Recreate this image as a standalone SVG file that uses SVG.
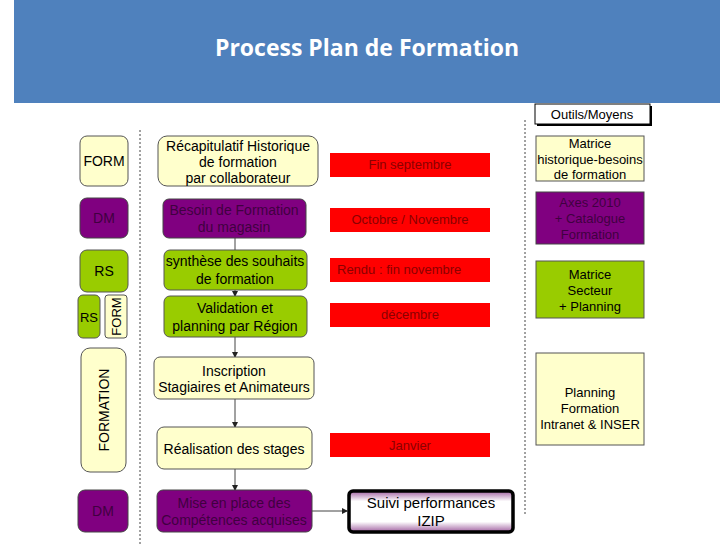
<svg xmlns="http://www.w3.org/2000/svg" width="728" height="546" viewBox="0 0 728 546">
<style>
text{font-family:"Liberation Sans",Arial,sans-serif;font-size:14px;text-anchor:middle}
.s{font-size:13px}
.y{fill:#FFFFCC;stroke:#555;stroke-width:1}
.p{fill:#800080;stroke:#444;stroke-width:1}
.g{fill:#99CC00;stroke:#555;stroke-width:1}
.pt{fill:#400040}
.r{fill:#FF0000}
.rt{fill:#8B0000}
.c{stroke:#444;stroke-width:1;fill:none}
.d{stroke:#444;stroke-width:1;stroke-dasharray:2,2}
</style>
<defs>
<marker id="a" markerWidth="6" markerHeight="6" refX="5" refY="3" orient="auto"><path d="M0,0L6,3L0,6z" fill="#222"/></marker>
<linearGradient id="sg" x1="0" y1="0" x2="0" y2="1"><stop offset="0" stop-color="#a060a0"/><stop offset="0.25" stop-color="#fff"/><stop offset="0.75" stop-color="#fff"/><stop offset="1" stop-color="#a060a0"/></linearGradient>
</defs>
<rect width="728" height="546" fill="#fff"/>
<rect x="14" y="0" width="706" height="103" fill="#4F81BD"/>
<text x="367" y="56" style="font-family:'Open Sans','Liberation Sans',sans-serif;font-size:23px;font-weight:bold;fill:#fff">Process Plan de Formation</text>
<line class="d" x1="140" y1="130" x2="140" y2="546"/>
<line class="d" x1="525" y1="120" x2="525" y2="515"/>
<g id="connectors">
<line class="c" x1="235" y1="238" x2="235" y2="250" stroke="#999"/>
<line class="c" x1="235" y1="290" x2="235" y2="296" marker-end="url(#a)"/>
<line class="c" x1="235" y1="337" x2="235" y2="357" marker-end="url(#a)"/>
<line class="c" x1="235" y1="399" x2="235" y2="427" marker-end="url(#a)"/>
<line class="c" x1="235" y1="469" x2="235" y2="490" marker-end="url(#a)"/>
<line class="c" x1="312" y1="511" x2="347" y2="511" marker-end="url(#a)"/>
</g>
<g id="l-form"><rect class="y" x="80" y="136" width="48" height="50" rx="7"/><text x="104" y="166">FORM</text></g>
<g id="l-dm1"><rect class="p" x="80" y="198" width="48" height="40" rx="7"/><text class="pt" x="104" y="223">DM</text></g>
<g id="l-rs"><rect class="g" x="80" y="250" width="48" height="42" rx="7"/><text x="104" y="276">RS</text></g>
<g id="l-rs2"><rect class="g" x="78" y="295" width="22" height="43" rx="5"/><text x="89" y="322" class="s">RS</text></g>
<g id="l-form2"><rect class="y" x="105" y="295" width="22" height="43" rx="3"/><text class="s" transform="translate(121,316.5) rotate(-90)">FORM</text></g>
<g id="l-formation"><rect class="y" x="81" y="348" width="45" height="124" rx="9"/><text transform="translate(109,410) rotate(-90)">FORMATION</text></g>
<g id="l-dm2"><rect class="p" x="78" y="490" width="50" height="42" rx="7"/><text class="pt" x="103" y="516">DM</text></g>
<g id="n-recap"><rect class="y" x="158" y="136" width="160" height="50" rx="9"/><text x="238" y="151">Récapitulatif Historique</text><text x="238" y="167">de formation</text><text x="238" y="183">par collaborateur</text></g>
<g id="n-besoin"><rect class="p" x="163" y="199" width="143" height="39" rx="6"/><text class="pt" x="234" y="215">Besoin de Formation</text><text class="pt" x="234" y="232">du magasin</text></g>
<g id="n-synth"><rect class="g" x="164" y="250" width="143" height="40" rx="6"/><text x="235" y="266">synthèse des souhaits</text><text x="235" y="284">de formation</text></g>
<g id="n-valid"><rect class="g" x="164" y="296" width="143" height="41" rx="6"/><text x="235" y="313">Validation et</text><text x="235" y="331">planning par Région</text></g>
<g id="n-inscr"><rect class="y" x="154" y="357" width="160" height="42" rx="6"/><text x="234" y="376">Inscription</text><text x="234" y="392">Stagiaires et Animateurs</text></g>
<g id="n-real"><rect class="y" x="157" y="427" width="155" height="42" rx="7"/><text x="234" y="454">Réalisation des stages</text></g>
<g id="n-mise"><rect class="p" x="157" y="490" width="155" height="42" rx="6"/><text class="pt" x="234" y="508">Mise en place des</text><text class="pt" x="234" y="525">Compétences acquises</text></g>
<g id="n-suivi"><rect x="349" y="491" width="164" height="41" rx="4" fill="url(#sg)" stroke="#000" stroke-width="3.5"/><text x="431" y="508" style="font-size:15px">Suivi performances</text><text x="431" y="526" style="font-size:15px">IZIP</text></g>
<g id="t-sept"><rect class="r" x="330" y="153" width="160" height="24"/><text class="rt s" x="410" y="169">Fin septembre</text></g>
<g id="t-oct"><rect class="r" x="330" y="208" width="160" height="24"/><text class="rt s" x="410" y="224">Octobre / Novembre</text></g>
<g id="t-rendu"><rect class="r" x="330" y="258" width="160" height="24"/><text class="rt s" x="337" y="274" style="text-anchor:start">Rendu : fin novembre</text></g>
<g id="t-dec"><rect class="r" x="330" y="303" width="160" height="24"/><text class="rt s" x="410" y="319">décembre</text></g>
<g id="t-janv"><rect class="r" x="330" y="433" width="160" height="24"/><text class="rt s" x="410" y="450">Janvier</text></g>
<g id="o-head"><rect x="537" y="106" width="115" height="20" fill="#000"/><rect x="535" y="104" width="115" height="20" fill="#fff" stroke="#000"/><text class="s" x="592" y="119">Outils/Moyens</text></g>
<g id="o-mat"><rect class="y" x="536" y="136" width="108" height="45" stroke="#000"/><text x="590" y="148" class="s">Matrice</text><text x="590" y="164" class="s">historique-besoins</text><text x="590" y="179" class="s">de formation</text></g>
<g id="o-axes"><rect class="p" x="536" y="192" width="108" height="52" stroke="#000"/><text class="pt s" x="590" y="207">Axes 2010</text><text class="pt s" x="590" y="223">+ Catalogue</text><text class="pt s" x="590" y="239">Formation</text></g>
<g id="o-sect"><rect class="g" x="536" y="261" width="108" height="57" stroke="#000"/><text class="s" x="590" y="279">Matrice</text><text class="s" x="590" y="295">Secteur</text><text class="s" x="590" y="311">+ Planning</text></g>
<g id="o-plan"><rect class="y" x="536" y="353" width="108" height="92" stroke="#000"/><text class="s" x="590" y="397">Planning</text><text class="s" x="590" y="413">Formation</text><text class="s" x="590" y="429">Intranet &amp; INSER</text></g>
</svg>
